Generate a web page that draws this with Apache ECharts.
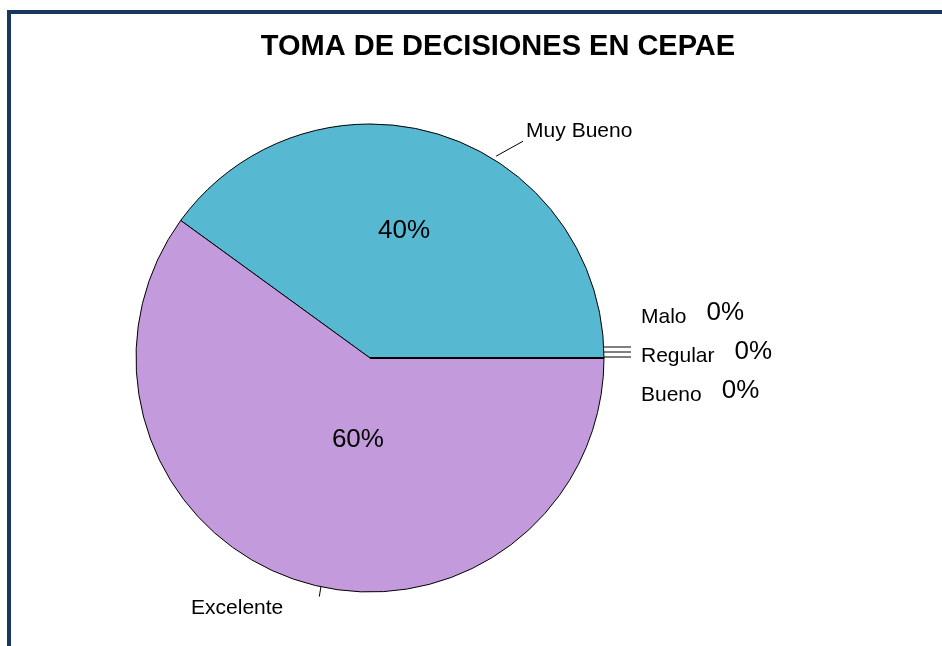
<!DOCTYPE html>
<html>
<head>
<meta charset="utf-8">
<script src="https://cdn.jsdelivr.net/npm/echarts@6/dist/echarts.min.js"></script>
<style>
  html, body { margin: 0; padding: 0; background: #fff; }
  #main { width: 942px; height: 646px; }
</style>
</head>
<body>
<div id="main"></div>
<script>
// Data
var categories = ['Muy Bueno', 'Excelente', 'Malo', 'Regular', 'Bueno'];
var values = [40, 60, 0, 0, 0];
var colors = ['#57b8d1', '#c39bdc', '#9bbb59', '#8064a2', '#4bacc6'];

var chart = echarts.init(document.getElementById('main'));

var fontFamily = 'Liberation Sans, Arial';
var cx = 370, cy = 358, R = 234;

// outside labels: category name (plus percent for the empty slices)
var outerData = categories.map(function (name, i) {
    return { name: name, value: values[i], itemStyle: { color: colors[i] } };
});

// inside labels: percent for the slices that have a size
var innerData = categories.map(function (name, i) {
    return {
        name: name,
        value: values[i],
        label: { show: values[i] > 0 },
        labelLine: { show: false }
    };
});

// point just outside the rim at a given angle (degrees, counter-clockwise from east)
function rim(deg, extra) {
    var a = deg * Math.PI / 180;
    return [cx + (R + extra) * Math.cos(a), cy - (R + extra) * Math.sin(a)];
}

// place labels where Excel put them
function outerLayout(params) {
    var i = params.dataIndex;
    var a, b;
    if (i === 0) {
        a = rim(58, 4);
        b = [a[0] + 27, a[1] - 15];
        return {
            x: b[0] + 3, y: b[1] - 10, align: 'left', verticalAlign: 'middle',
            labelLinePoints: [a, b, b]
        };
    }
    if (i === 1) {
        a = rim(258, 10);
        b = [a[0] + 2, a[1] - 12];
        return {
            x: a[0] - 36, y: a[1] + 12, align: 'right', verticalAlign: 'middle',
            labelLinePoints: [a, b, b]
        };
    }
    // the empty slices all sit at the right edge: stack their labels
    var k = i - 2;
    var ly = cy - 11 + k * 5;
    return {
        x: cx + R + 37,
        y: cy - 41 + k * 39,
        align: 'left',
        verticalAlign: 'middle',
        labelLinePoints: [[cx + R, ly], [cx + R + 27, ly], [cx + R + 27, ly]]
    };
}

function innerLayout(params) {
    if (params.dataIndex === 0) return { dx: -3, dy: -13 };
    if (params.dataIndex === 1) return { dx: 25, dy: -32 };
}

var option = {
    animation: false,
    title: {
        text: 'TOMA DE DECISIONES EN CEPAE',
        left: 493,
        top: 27,
        textAlign: 'center',
        textStyle: {
            fontFamily: fontFamily,
            fontSize: 29,
            fontWeight: 'bold',
            color: '#000'
        }
    },
    graphic: [
        {
            type: 'rect',
            shape: { x: 9, y: 12, width: 1000, height: 1000 },
            style: { fill: 'none', stroke: '#17375e', lineWidth: 4 }
        }
    ],
    series: [
        {
            name: 'outer',
            type: 'pie',
            center: [cx, cy],
            radius: R,
            startAngle: 0,
            clockwise: false,
            avoidLabelOverlap: false,
            stillShowZeroSum: true,
            itemStyle: { borderColor: '#000', borderWidth: 1 },
            label: {
                position: 'outside',
                fontFamily: fontFamily,
                fontSize: 21,
                color: '#000',
                formatter: function (p) {
                    if (p.value === 0) {
                        return '{n|' + p.name + '}{p|' + p.percent + '%}';
                    }
                    return p.name;
                },
                rich: {
                    n: { fontFamily: fontFamily, fontSize: 21, color: '#000' },
                    p: { fontFamily: fontFamily, fontSize: 26, color: '#000', padding: [0, 0, 8, 20] }
                }
            },
            labelLine: {
                show: true,
                length: 12,
                length2: 18,
                lineStyle: { color: '#000', width: 1 }
            },
            labelLayout: outerLayout,
            emphasis: { disabled: true },
            data: outerData
        },
        {
            name: 'inner',
            type: 'pie',
            center: [cx, cy],
            radius: R,
            startAngle: 0,
            clockwise: false,
            silent: true,
            itemStyle: { color: 'transparent' },
            label: {
                position: 'inside',
                fontFamily: fontFamily,
                fontSize: 26,
                color: '#000',
                formatter: '{d}%'
            },
            labelLayout: innerLayout,
            emphasis: { disabled: true },
            data: innerData
        }
    ]
};

chart.setOption(option);
</script>
</body>
</html>
